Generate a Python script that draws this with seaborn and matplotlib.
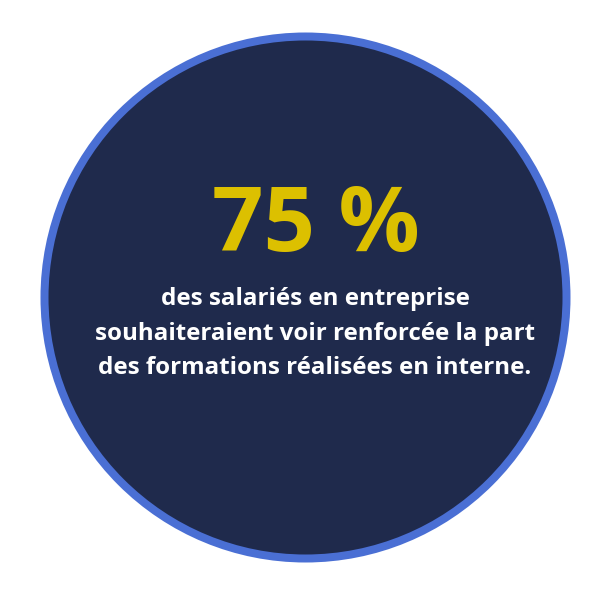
import matplotlib
matplotlib.use("Agg")
import matplotlib.pyplot as plt
import seaborn as sns
from matplotlib.patches import Circle

# Données de l'infographie
valeur = [75]
unite = ["%"]
lignes = [
    "des salariés en entreprise",
    "souhaiteraient voir renforcée la part",
    "des formations réalisées en interne.",
]

sns.set_theme(style="white")
plt.rcParams['font.family'] = ['Open Sans', 'DejaVu Sans']

W, H = 589, 598
fig = plt.figure(figsize=(W / 100, H / 100), dpi=100)
ax = fig.add_axes([0, 0, 1, 1])
ax.set_xlim(0, W)
ax.set_ylim(H, 0)
ax.set_aspect("equal")
ax.axis("off")

# Cercle bleu foncé avec bordure bleue
cercle = Circle((305.5, 297.5), 261, facecolor="#1f2a4c", edgecolor="#4a6fd4",
                linewidth=8 * 0.72)
ax.add_patch(cercle)

# Grand chiffre
ax.text(316, 228, f"{valeur[0]} {unite[0]}", color="#dcc000", fontsize=65,
        fontweight="bold", ha="center", va="center")

# Texte explicatif
y0 = 299
for i, ligne in enumerate(lignes):
    ax.text(315, y0 + i * 34.5, ligne, color="white", fontsize=17.4,
            fontweight="bold", ha="center", va="center")

fig.savefig("out.png", dpi=100)
